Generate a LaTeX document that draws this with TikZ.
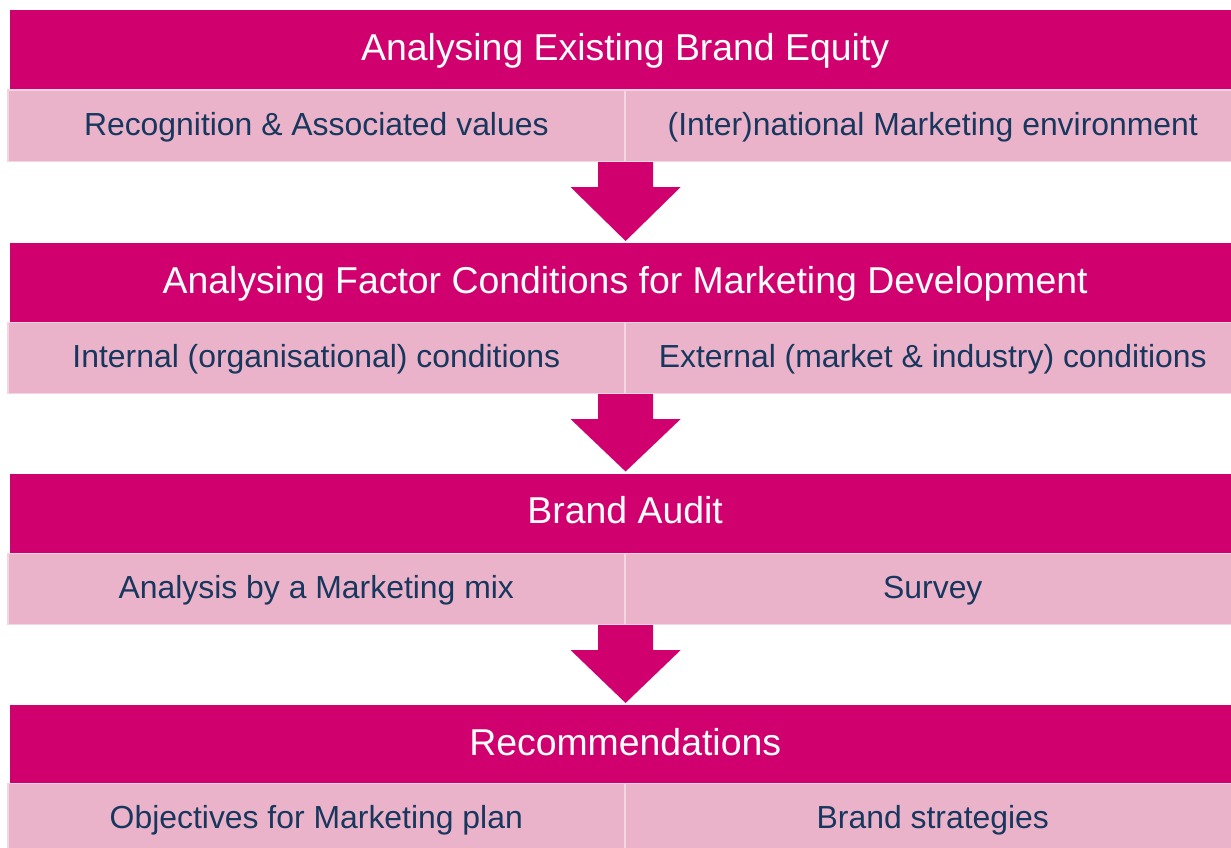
\documentclass[tikz,border=0pt]{standalone}
\usepackage{fontspec}
\setmainfont{Liberation Sans}
\usetikzlibrary{calc}
\definecolor{magentabar}{HTML}{D1006F}
\definecolor{pinkrow}{HTML}{EBB3C9}
\definecolor{pinkedge}{HTML}{F4D6E2}
\definecolor{navytext}{HTML}{17375E}
\tikzset{
  headbox/.style={fill=magentabar, text=white, inner sep=0pt, minimum width=1230pt, minimum height=79pt, anchor=north west, text height=21pt, text depth=0pt, font=\fontsize{37.4}{42}\selectfont},
  rowbox/.style={fill=pinkrow, draw=pinkedge, line width=1.6pt, text=navytext, inner sep=0pt, minimum height=71pt, anchor=north west, text height=20pt, text depth=0pt, font=\fontsize{31.9}{36}\selectfont},
  leftcell/.style={rowbox, minimum width=617pt},
  rightcell/.style={rowbox, minimum width=616pt},
  arrowfill/.style={fill=magentabar},
}
\newcommand\flowarrow[2]{%
  \fill[arrowfill] ($(#1)+(-27.5,0)$) -- ($(#1)+(27.5,0)$) -- ($(#1)+(27.5,25)$) -- ($(#1)+(55,25)$)
    -- ($(#1 |- #2)+(0,-2)$) -- ($(#1)+(-55,25)$) -- ($(#1)+(-27.5,25)$) -- cycle;}
\begin{document}
\begin{tikzpicture}[x=1pt,y=-1pt]
\useasboundingbox (0,0) rectangle (1231,848);
\clip (0,0) rectangle (1231,848);
% block 1
\node[headbox] (h1) at (10,10) {Analysing Existing Brand Equity};
\node[leftcell] (r1l) at (7,89.5) {Recognition \& Associated values};
\node[rightcell] (r1r) at (624,89.5) {(Inter)national Marketing environment};
% block 2
\node[headbox] (h2) at (10,243) {Analysing Factor Conditions for Marketing Development};
\node[leftcell] (r2l) at (7,321.5) {Internal (organisational) conditions};
\node[rightcell] (r2r) at (624,321.5) {External (market \& industry) conditions};
% block 3
\node[headbox] (h3) at (10,473.5) {Brand Audit};
\node[leftcell] (r3l) at (7,552.5) {Analysis by a Marketing mix};
\node[rightcell] (r3r) at (624,552.5) {Survey};
% block 4
\node[headbox] (h4) at (10,705) {Recommendations};
\node[leftcell] (r4l) at (7,782.5) {Objectives for Marketing plan};
\node[rightcell] (r4r) at (624,782.5) {Brand strategies};
% arrows
\coordinate (a1) at (r1l.south east);
\coordinate (a2) at (r2l.south east);
\coordinate (a3) at (r3l.south east);
\flowarrow{a1}{h2.north}
\flowarrow{a2}{h3.north}
\flowarrow{a3}{h4.north}
\end{tikzpicture}
\end{document}
